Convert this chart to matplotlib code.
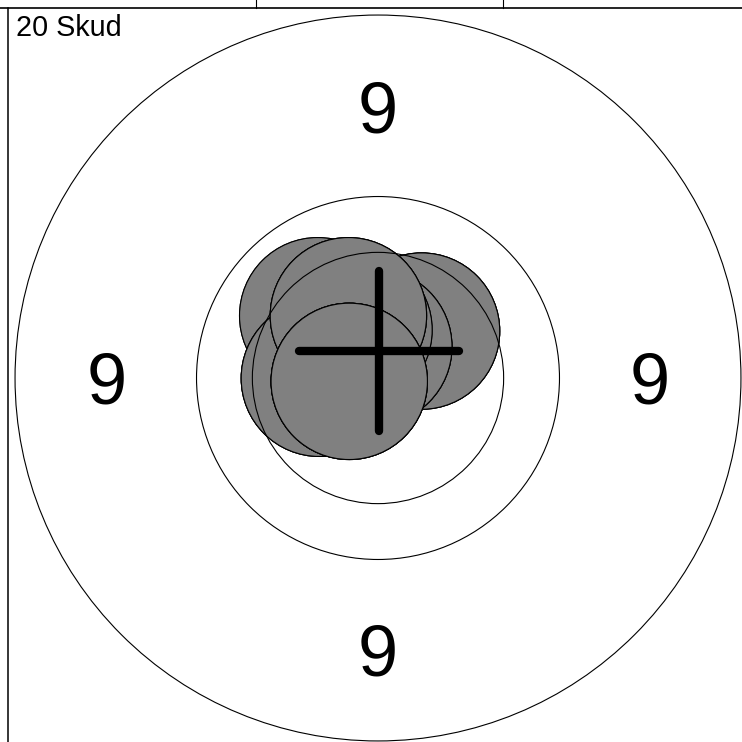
import matplotlib
matplotlib.use("Agg")
import matplotlib.pyplot as plt
from matplotlib.patches import Circle
from matplotlib.lines import Line2D

# ---- data (mm, target centre at 0,0) ----
ring_radii = [13.0, 6.5, 4.5]          # ring 9 outer edge, ring 10 edge, inner ten
ring_label = "9"
label_radius = 9.72
shot_radius = 2.8
shot_x = [-2.16, -2.16, -2.10, -2.10, -2.10, 1.56, 1.56, 1.56, -0.15, -0.15,
          -0.15, -0.86, -0.86, -1.06, -1.06, -1.06, -1.03, -1.03, -1.03, -1.03]
shot_y = [2.23, 2.23, -0.01, -0.01, -0.01, 1.68, 1.68, 1.68, 1.12, 1.12,
          1.12, 1.72, 1.72, 2.23, 2.23, 2.23, -0.12, -0.12, -0.12, -0.12]
group_center = (0.025, 0.98)
cross_half = 2.87
title = "20 Skud"

W = 742
fig = plt.figure(figsize=(W / 100, W / 100), dpi=100)
ax = fig.add_axes([0, 0, 1, 1])
scale = 27.92
cx_px = 378
ax.set_xlim(-cx_px / scale, (W - cx_px) / scale)
ax.set_ylim(-(W - cx_px) / scale, cx_px / scale)
ax.set_aspect("equal")
ax.axis("off")

for x, y in zip(shot_x, shot_y):
    ax.add_patch(Circle((x, y), shot_radius, facecolor="#808080",
                        edgecolor="black", linewidth=0.8, zorder=2))

for r in ring_radii:
    ax.add_patch(Circle((0, 0), r, facecolor="none", edgecolor="black",
                        linewidth=0.8, zorder=3))

gx, gy = group_center
ax.plot([gx - cross_half, gx + cross_half], [gy, gy], color="black",
        linewidth=6, solid_capstyle="round", zorder=4)
ax.plot([gx, gx], [gy - cross_half, gy + cross_half], color="black",
        linewidth=6, solid_capstyle="round", zorder=4)

label_fs = 52
half_cap = 0.716 * label_fs / 72 * 100 / 2 / scale   # half cap height in data units
for dx, dy in [(0, 1), (-1, 0), (1, 0), (0, -1)]:
    ax.text(dx * label_radius, dy * label_radius - half_cap, ring_label,
            fontsize=label_fs, family="Liberation Sans", ha="center",
            va="baseline", zorder=5)

# page frame lines
ytop = 1 - 8 / W
xleft = 8 / W
fig.add_artist(Line2D([0, 1], [ytop, ytop], color="black", linewidth=1.2,
                      transform=fig.transFigure))
fig.add_artist(Line2D([xleft, xleft], [0, ytop], color="black", linewidth=1.1,
                      transform=fig.transFigure))
for xp in [255.7, 502.7]:
    fig.add_artist(Line2D([xp / W, xp / W], [ytop, 1], color="black",
                          linewidth=0.8, transform=fig.transFigure))

fig.text(16 / W, 1 - 36 / W, title, fontsize=20.7, family="Liberation Sans",
         ha="left", va="baseline")

fig.savefig("out.png", dpi=100)
